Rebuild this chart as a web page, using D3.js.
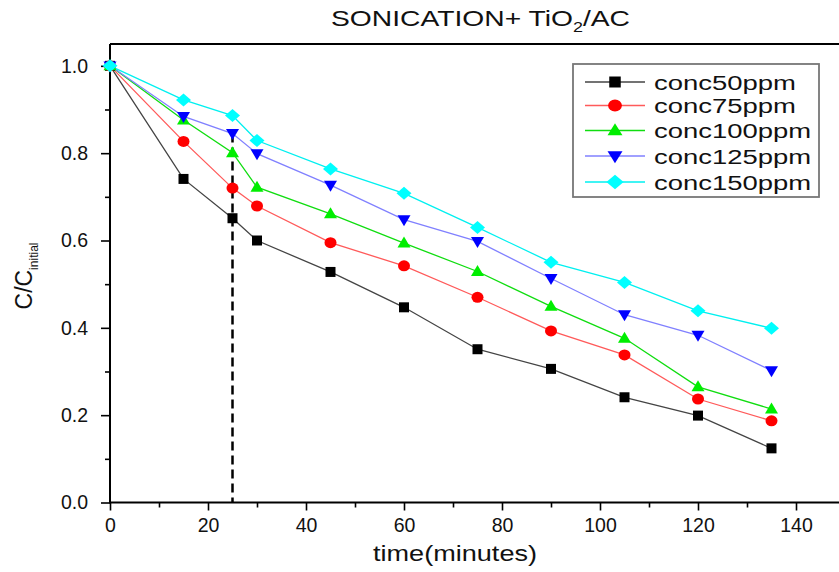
<!DOCTYPE html>
<html>
<head>
<meta charset="utf-8">
<script src="https://cdn.jsdelivr.net/npm/d3@7"></script>
<style>
  html, body { margin: 0; padding: 0; background: #fff; }
  svg { display: block; font-family: "Liberation Sans", Arial, sans-serif; }
</style>
</head>
<body>
<svg id="chart" width="839" height="572"></svg>
<script>
// ---- data ----
const time = [0, 15, 25, 30, 45, 60, 75, 90, 105, 120, 135];
const conc50  = [1.0, 0.741, 0.651, 0.600, 0.528, 0.447, 0.351, 0.306, 0.241, 0.199, 0.124];
const conc75  = [1.0, 0.827, 0.720, 0.679, 0.595, 0.542, 0.470, 0.393, 0.338, 0.237, 0.187];
const conc100 = [1.0, 0.876, 0.801, 0.722, 0.661, 0.594, 0.529, 0.449, 0.376, 0.265, 0.214];
const conc125 = [1.0, 0.884, 0.845, 0.799, 0.727, 0.648, 0.598, 0.513, 0.430, 0.383, 0.302];
const conc150 = [1.0, 0.922, 0.886, 0.829, 0.764, 0.708, 0.630, 0.550, 0.504, 0.439, 0.399];
const seriesNames = ["conc50ppm", "conc75ppm", "conc100ppm", "conc125ppm", "conc150ppm"];
const xTicks = [0, 20, 40, 60, 80, 100, 120, 140];
const xMinorTicks = [10, 30, 50, 70, 90, 110, 130];
const yTicks = [0.0, 0.2, 0.4, 0.6, 0.8, 1.0];
const yMinorTicks = [0.1, 0.3, 0.5, 0.7, 0.9];
const markerTime = 25;       // dashed reference line
const markerTop = 0.845;

// ---- styles ----
const lineColors   = ["#444444", "#ff5a5a", "#10dd10", "#8080ff", "#00f0f0"];
const markerColors = ["#000000", "#ff0000", "#00ee00", "#0000ff", "#00ffff"];
const shapes = ["square", "circle", "triUp", "triDown", "diamond"];
const markerSize = { square: [10, 10], circle: [12, 11], triUp: [13, 11], triDown: [13, 11], diamond: [15, 13] };

const svg = d3.select("#chart");
const x = d3.scaleLinear().domain([0, 140]).range([110, 796]);
const y = d3.scaleLinear().domain([0, 1.05]).range([502.5, 44]);

function markerPath(shape, w, h) {
  const a = w / 2, b = h / 2;
  switch (shape) {
    case "square": return `M${-a},${-b}H${a}V${b}H${-a}Z`;
    case "circle": return `M${-a},0A${a},${b} 0 1,0 ${a},0A${a},${b} 0 1,0 ${-a},0Z`;
    case "triUp": return `M0,${-h*0.6}L${a},${h*0.4}L${-a},${h*0.4}Z`;
    case "triDown": return `M0,${h*0.6}L${a},${-h*0.4}L${-a},${-h*0.4}Z`;
    case "diamond": return `M0,${-b}L${a},0L0,${b}L${-a},0Z`;
  }
}

function stretchTo(sel, target) {
  sel.attr("textLength", target).attr("lengthAdjust", "spacingAndGlyphs");
}

// ---- frame (top border, right side lies outside view) ----
svg.append("line").attr("x1", x(0)).attr("x2", 845).attr("y1", y(1.05)).attr("y2", y(1.05))
  .attr("stroke", "#000").attr("stroke-width", 2);

// ---- axes ----
const xAxis = svg.append("g").attr("transform", `translate(0,${y(0)})`)
  .call(d3.axisBottom(x).tickValues(xTicks).tickSize(8).tickPadding(8).tickFormat(d3.format("d")));
svg.append("g").attr("transform", `translate(0,${y(0)})`)
  .call(d3.axisBottom(x).tickValues(xMinorTicks).tickSize(5).tickFormat(""))
  .call(g => g.select(".domain").remove());
const yAxis = svg.append("g").attr("transform", `translate(${x(0)},0)`)
  .call(d3.axisLeft(y).tickValues(yTicks).tickSize(9).tickPadding(13).tickFormat(d3.format(".1f")));
svg.append("g").attr("transform", `translate(${x(0)},0)`)
  .call(d3.axisLeft(y).tickValues(yMinorTicks).tickSize(5).tickFormat(""))
  .call(g => g.select(".domain").remove());

svg.selectAll(".tick line").attr("stroke", "#000").attr("stroke-width", 1.6);
xAxis.select(".domain").attr("d", `M${x(0)},0H845`).attr("stroke", "#000").attr("stroke-width", 2);
yAxis.select(".domain").attr("d", `M0,${y(0) + 1}V${y(1.05)}`).attr("stroke", "#000").attr("stroke-width", 2);
svg.selectAll(".tick text").attr("font-size", 19.5).attr("fill", "#111")
  .attr("font-family", "'Liberation Sans', Arial, sans-serif");

// ---- dashed line ----
svg.append("line")
  .attr("x1", x(markerTime)).attr("x2", x(markerTime))
  .attr("y1", y(markerTop)).attr("y2", y(0))
  .attr("stroke", "#000").attr("stroke-width", 2.5).attr("stroke-dasharray", "9,5");

// ---- series ----
const allSeries = [conc50, conc75, conc100, conc125, conc150];
const line = d3.line().x((d, i) => x(time[i])).y(d => y(d));
allSeries.forEach((vals, si) => {
  svg.append("path").datum(vals).attr("d", line)
    .attr("fill", "none").attr("stroke", lineColors[si]).attr("stroke-width", 1.3);
});
allSeries.forEach((vals, si) => {
  const [w, h] = markerSize[shapes[si]];
  svg.append("g").selectAll("path").data(vals).join("path")
    .attr("transform", (d, i) => `translate(${x(time[i])},${y(d)})`)
    .attr("d", markerPath(shapes[si], w, h))
    .attr("fill", markerColors[si]);
});

// ---- legend ----
const lg = svg.append("g");
lg.append("rect").attr("x", 573).attr("y", 64).attr("width", 246).attr("height", 133)
  .attr("fill", "#fff").attr("stroke", "#777").attr("stroke-width", 1.8);
const rowY = [82, 105.5, 130.5, 156, 182];
const legendWidths = [142, 142, 157, 157, 157];
seriesNames.forEach((name, si) => {
  const ry = rowY[si];
  lg.append("line").attr("x1", 585).attr("x2", 645).attr("y1", ry).attr("y2", ry)
    .attr("stroke", lineColors[si]).attr("stroke-width", 1.3);
  const [w, h] = markerSize[shapes[si]];
  lg.append("path").attr("transform", `translate(615,${ry})`)
    .attr("d", markerPath(shapes[si], w * 1.15, h * 1.1)).attr("fill", markerColors[si]);
  const t = lg.append("text").attr("x", 654).attr("y", ry + 7.5).attr("font-size", 20)
    .attr("fill", "#111").text(name);
  stretchTo(t, legendWidths[si]);
});

// ---- title ----
const title = svg.append("text").attr("x", 331).attr("y", 26).attr("font-size", 22).attr("fill", "#111");
title.append("tspan").text("SONICATION+ TiO");
title.append("tspan").attr("font-size", 14).attr("dy", 6).text("2");
title.append("tspan").attr("dy", -6).text("/AC");
stretchTo(title, 299);

// ---- axis titles ----
const xt = svg.append("text").attr("x", 373).attr("y", 561).attr("font-size", 22).attr("fill", "#111")
  .text("time(minutes)");
stretchTo(xt, 164);

const yt = svg.append("text").attr("transform", "translate(32,276) rotate(-90)")
  .attr("text-anchor", "middle").attr("font-size", 23).attr("fill", "#111");
yt.append("tspan").text("C/C");
yt.append("tspan").attr("font-size", 12).attr("dy", 6).text("initial");
</script>
</body>
</html>
